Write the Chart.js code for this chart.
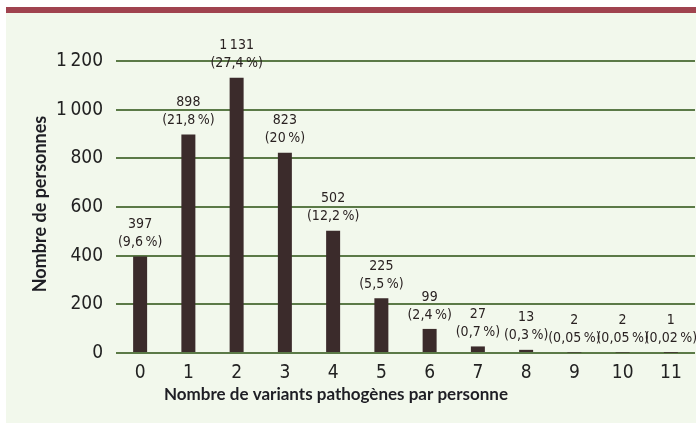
<!DOCTYPE html>
<html>
<head>
<meta charset="utf-8">
<script src="https://cdn.jsdelivr.net/npm/chart.js@4"></script>
<style>
  html, body { margin: 0; padding: 0; background: #fff; }
  #wrap { width: 696px; height: 426px; }
</style>
</head>
<body>
<div id="wrap"><canvas id="variants_chart" width="696" height="426"></canvas></div>
<script>
const categories = ['0', '1', '2', '3', '4', '5', '6', '7', '8', '9', '10', '11'];
const persons = [397, 898, 1131, 823, 502, 225, 99, 27, 13, 2, 2, 1];
const shares = ['9,6', '21,8', '27,4', '20', '12,2', '5,5', '2,4', '0,7', '0,3', '0,05', '0,05', '0,02'];
const yTicks = [0, 200, 400, 600, 800, 1000, 1200];

const narrow = "'DejaVu Sans Condensed', 'DejaVu Sans', sans-serif";
const bold = "Lato, 'Noto Sans', sans-serif";

function spaced(n) {
    return String(n).replace(/\B(?=(\d{3})+(?!\d))/g, '\u2009');
}

// page frame: red band on top, pale green panel
const framePlugin = {
    id: 'frame',
    beforeDraw(chart) {
        const c = chart.ctx;
        c.save();
        c.fillStyle = '#ffffff';
        c.fillRect(0, 0, chart.width, chart.height);
        c.fillStyle = '#f2f8ec';
        c.fillRect(6, 13, chart.width - 6, 410);
        c.fillStyle = '#a0434f';
        c.fillRect(6, 7, chart.width - 6, 6);
        c.restore();
    }
};

// value + share above each bar, plus the axis titles
const labelPlugin = {
    id: 'barLabels',
    afterDatasetsDraw(chart) {
        const c = chart.ctx;
        const meta = chart.getDatasetMeta(0);
        c.save();
        c.fillStyle = '#2a2222';
        c.textAlign = 'center';
        c.textBaseline = 'middle';
        c.font = '14px ' + narrow;
        meta.data.forEach((bar, i) => {
            c.fillText(spaced(persons[i]), bar.x, bar.y - 32);
            c.fillText('(' + shares[i] + '\u2009%)', bar.x, bar.y - 14);
        });
        c.fillStyle = '#1e1e24';
        c.font = 'bold 17px ' + bold;
        c.fillText('Nombre de variants pathogènes par personne', 336, 395);
        c.translate(40, 204);
        c.rotate(-Math.PI / 2);
        c.font = 'bold 18px ' + bold;
        c.fillText('Nombre de personnes', 0, 0);
        c.restore();
    }
};

const ctx = document.getElementById('variants_chart').getContext('2d');

new Chart(ctx, {
    type: 'bar',
    data: {
        labels: categories,
        datasets: [{
            data: persons,
            backgroundColor: '#3b2b2b',
            barPercentage: 0.29,
            categoryPercentage: 1
        }]
    },
    options: {
        responsive: false,
        animation: false,
        layout: {
            padding: { top: 61, right: 1, left: 0, bottom: 0 }
        },
        scales: {
            x: {
                grid: { display: false },
                border: { display: false },
                ticks: {
                    color: '#222',
                    font: { family: narrow, size: 19 },
                    padding: 1
                },
                afterFit(scale) { scale.height = 73; }
            },
            y: {
                min: 0,
                max: 1200,
                afterBuildTicks(scale) {
                    scale.ticks = yTicks.map(v => ({ value: v }));
                },
                grid: {
                    color: '#5b7a47',
                    lineWidth: 2,
                    drawTicks: false
                },
                border: { display: false },
                ticks: {
                    color: '#222',
                    font: { family: narrow, size: 19 },
                    padding: 13,
                    callback: v => spaced(v)
                },
                afterFit(scale) { scale.width = 116; }
            }
        },
        plugins: {
            legend: { display: false },
            tooltip: { enabled: false }
        }
    },
    plugins: [framePlugin, labelPlugin]
});
</script>
</body>
</html>
